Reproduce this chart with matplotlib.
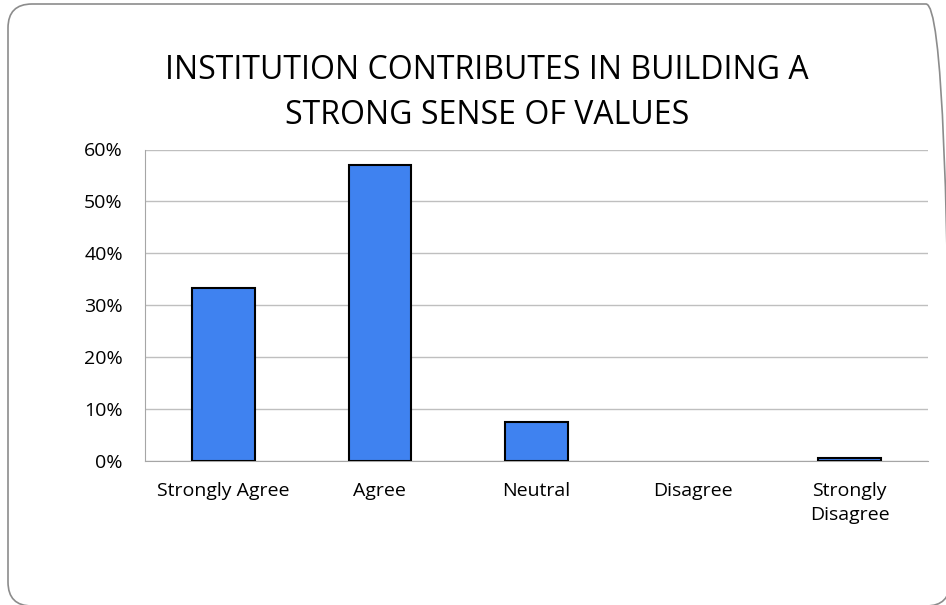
import matplotlib.pyplot as plt
from matplotlib.patches import FancyBboxPatch
from matplotlib.ticker import PercentFormatter

categories = ['Strongly Agree', 'Agree', 'Neutral', 'Disagree', 'Strongly\nDisagree']
values = [33.3, 57.1, 7.6, 0.0, 0.6]

plt.rcParams['font.family'] = ['Open Sans', 'DejaVu Sans']

fig = plt.figure(figsize=(9.46, 6.05), dpi=100)

# rounded frame round the whole chart (right and bottom edges run off the picture)
frame = FancyBboxPatch((0.08, -0.01), 9.42, 6.02, boxstyle='round,pad=0,rounding_size=0.24',
                       transform=fig.dpi_scale_trans, facecolor='none', edgecolor='#8c8c8c',
                       linewidth=1.2, zorder=-1)
fig.patches.append(frame)

ax = fig.add_axes([145 / 946, 1 - 461 / 605, (928 - 145) / 946, (461 - 149.5) / 605])
ax.set_facecolor('none')

x = range(len(categories))
widths = [1.5 if v > 0 else 0 for v in values]
ax.bar(x, values, width=0.4, color='#3f82f0', edgecolor='black', linewidth=widths, zorder=3)

ax.set_xlim(-0.5, len(categories) - 0.5)
ax.set_ylim(0, 60)
ax.set_yticks(range(0, 61, 10))
ax.yaxis.set_major_formatter(PercentFormatter(decimals=0))
ax.set_xticks(list(x))
ax.set_xticklabels(categories, linespacing=1.45)
ax.grid(axis='y', color='#bfbfbf', linewidth=1)
ax.tick_params(length=0, labelsize=14, colors='black')
ax.tick_params(axis='x', pad=15)
ax.tick_params(axis='y', pad=16)
for side in ['top', 'right']:
    ax.spines[side].set_visible(False)
for side in ['left', 'bottom']:
    ax.spines[side].set_color('#a6a6a6')

fig.text(0.515, 1 - 93 / 605, 'INSTITUTION CONTRIBUTES IN BUILDING A\nSTRONG SENSE OF VALUES',
         ha='center', va='center', fontsize=23, linespacing=1.45)

fig.savefig('out.png', dpi=100)
